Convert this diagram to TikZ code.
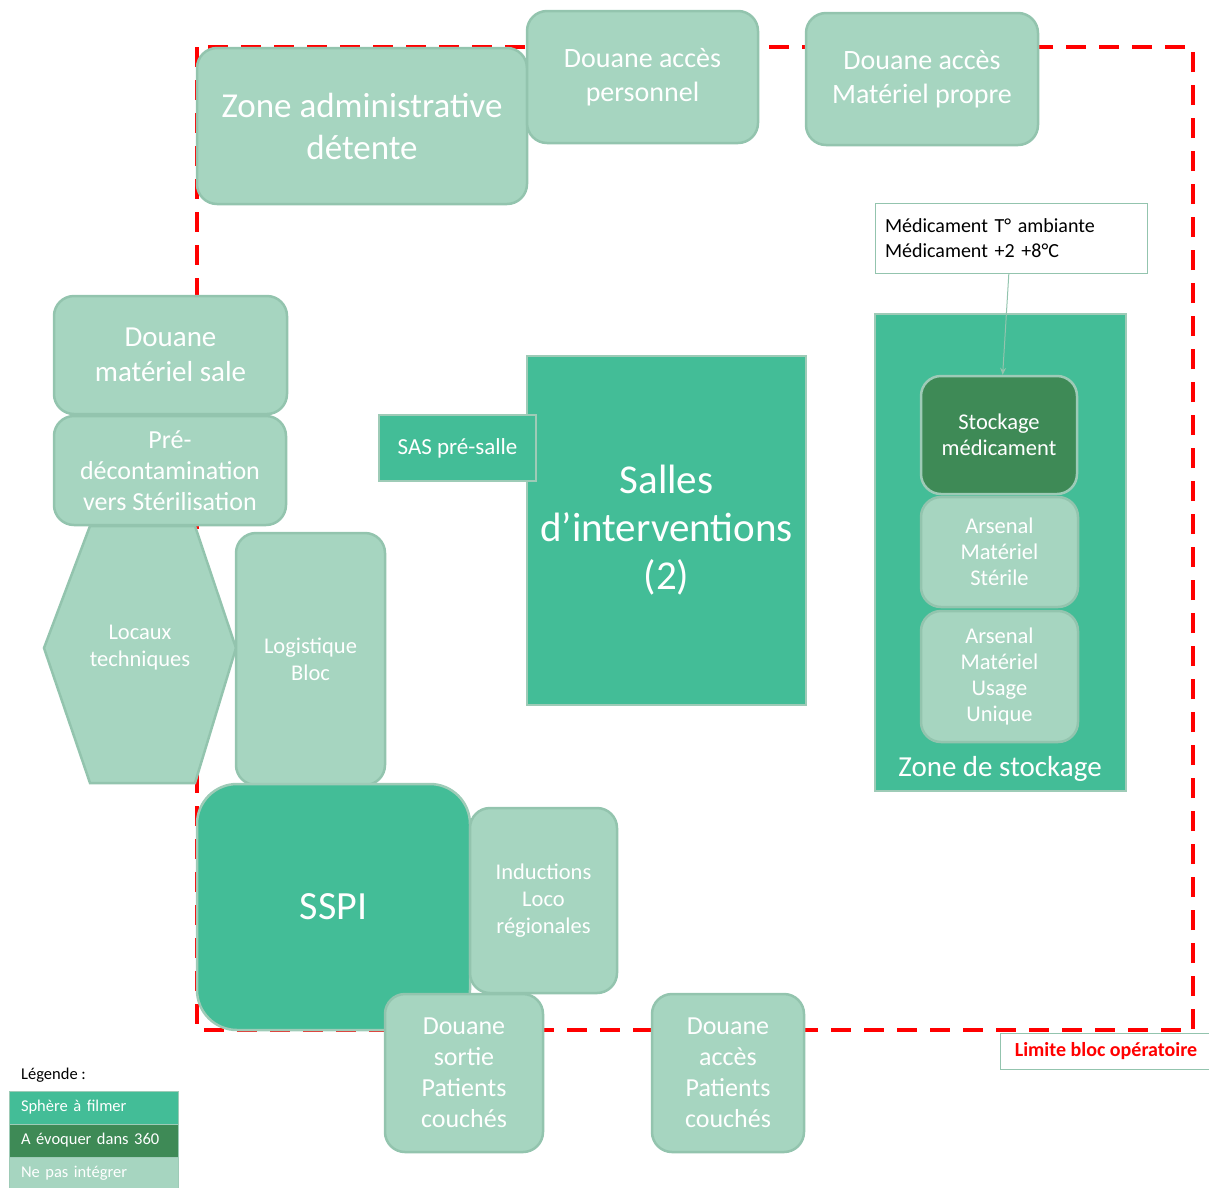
\documentclass[tikz,border=0pt]{standalone}
\usepackage{fontspec}
\setmainfont{Carlito}
\usetikzlibrary{arrows.meta}

\definecolor{sphere}{HTML}{43BD97}
\definecolor{evoquer}{HTML}{3E8A56}
\definecolor{pasint}{HTML}{A6D5C0}
\definecolor{bordlight}{HTML}{93C4AE}
\definecolor{bordmed}{HTML}{9ECBB7}

\newcommand{\fs}[2]{\fontsize{#1}{#2}\selectfont}

\begin{document}
\begin{tikzpicture}[x=1pt,y=-1pt]
    \tikzstyle{every node}+=[inner sep=0pt, align=center, text=white]
    \tikzstyle{light}=[draw=bordlight, line width=2.5pt, fill=pasint, rounded corners=20pt]
    \tikzstyle{medium}=[draw=bordmed, line width=2.5pt, fill=sphere]
    \tikzstyle{dark}=[draw=bordmed, line width=2.5pt, fill=evoquer, rounded corners=20pt]
    \tikzstyle{legrow}=[minimum width=169, minimum height=33, text width=145, align=left, draw=bordmed, line width=1pt]
    \useasboundingbox (0,0) rectangle (1209,1187);
    % limite du bloc
    \draw [red, line width=4pt, dash pattern=on 20pt off 13pt] (197,47) rectangle (1193,1030);
    % haut
    \node [light, minimum width=330, minimum height=156, font=\fs{35}{42}] (admin) at (362,126) {Zone administrative\\détente};
    \node [light, minimum width=231, minimum height=132, font=\fs{28}{34}] (persoacc) at (642.5,77) {Douane accès\\personnel};
    \node [light, minimum width=232, minimum height=132, font=\fs{28}{34}] (propre) at (922,79) {Douane accès\\Matériel propre};
    % stockage
    \node [draw=bordlight, line width=1pt, fill=white, text=black, minimum width=272, minimum height=70, text width=252, align=left, font=\fs{20}{25}] (callout) at (1011,238) {Médicament T° ambiante\\Médicament +2 +8°C};
    \node [medium, minimum width=251, minimum height=477] (stockzone) at (1000.5,552.5) {};
    \node [font=\fs{29}{32}] (stocklabel) at (1000,769) {Zone de stockage};
    \node [dark, minimum width=156, minimum height=118, font=\fs{22.5}{26}] (stockmed) at (999,435) {Stockage\\médicament};
    \node [light, minimum width=157, minimum height=110, font=\fs{22.5}{26}] (sterile) at (999.5,552) {Arsenal\\Matériel\\Stérile};
    \node [light, minimum width=157, minimum height=131, font=\fs{22.5}{26}] (usage) at (999.5,676.5) {Arsenal\\Matériel\\Usage\\Unique};
    \draw [bordlight, line width=1pt, -{Stealth[length=7pt,width=6pt]}] (callout) -- (stockmed);
    % gauche
    \node [light, minimum width=233, minimum height=118, font=\fs{29}{35}] (sale) at (170.5,355) {Douane\\matériel sale};
    \node [light, minimum width=232, minimum height=109, font=\fs{26}{31}] (predecon) at (170,470.5) {Pré-\\décontamination\\vers Stérilisation};
    \draw [draw=bordlight, line width=2.5pt, fill=pasint] (90,526) -- (195,526) -- (236,648) -- (195,783) -- (90,783) -- (44,648) -- cycle;
    \node [font=\fs{22.5}{27}] (locaux) at (140,648) {Locaux\\techniques};
    \node [light, minimum width=149, minimum height=252, font=\fs{22.5}{27}] (logist) at (310.5,659) {Logistique\\Bloc};
    % salles
    \node [medium, minimum width=279, minimum height=349, font=\fs{41}{48}] (salles) at (666.5,530.5) {Salles\\d’interventions\\(2)};
    \node [medium, minimum width=157, minimum height=66, font=\fs{23}{26}] (sas) at (457.5,448) {SAS pré-salle};
    % bas
    \node [medium, rounded corners=40pt, minimum width=273, minimum height=246, font=\fs{40}{46}] (sspi) at (333.5,907) {SSPI};
    \node [light, minimum width=147, minimum height=185, font=\fs{22.5}{27}] (induc) at (543.5,900.5) {Inductions\\Loco\\régionales};
    \node [light, minimum width=158, minimum height=158, font=\fs{26}{31}] (sortie) at (464,1073) {Douane\\sortie\\Patients\\couchés};
    \node [light, minimum width=152, minimum height=158, font=\fs{26}{31}] (accpat) at (728,1073) {Douane\\accès\\Patients\\couchés};
    \node [draw=bordlight, line width=1pt, fill=white, text=red, minimum width=212, minimum height=36, font=\fs{20}{22}\bfseries] (limite) at (1106,1051) {Limite bloc opératoire};
    % legende
    \node [anchor=west, text=black, font=\fs{16.5}{19}] (legtitre) at (21,1075) {Légende :};
    \node [legrow, fill=sphere, font=\fs{16.5}{19}] (leg1) at (93.5,1107.5) {Sphère à filmer};
    \node [legrow, fill=evoquer, font=\fs{16.5}{19}] (leg2) at (93.5,1140.5) {A évoquer dans 360};
    \node [legrow, fill=pasint, font=\fs{16.5}{19}] (leg3) at (93.5,1173.5) {Ne pas intégrer};
\end{tikzpicture}
\end{document}
